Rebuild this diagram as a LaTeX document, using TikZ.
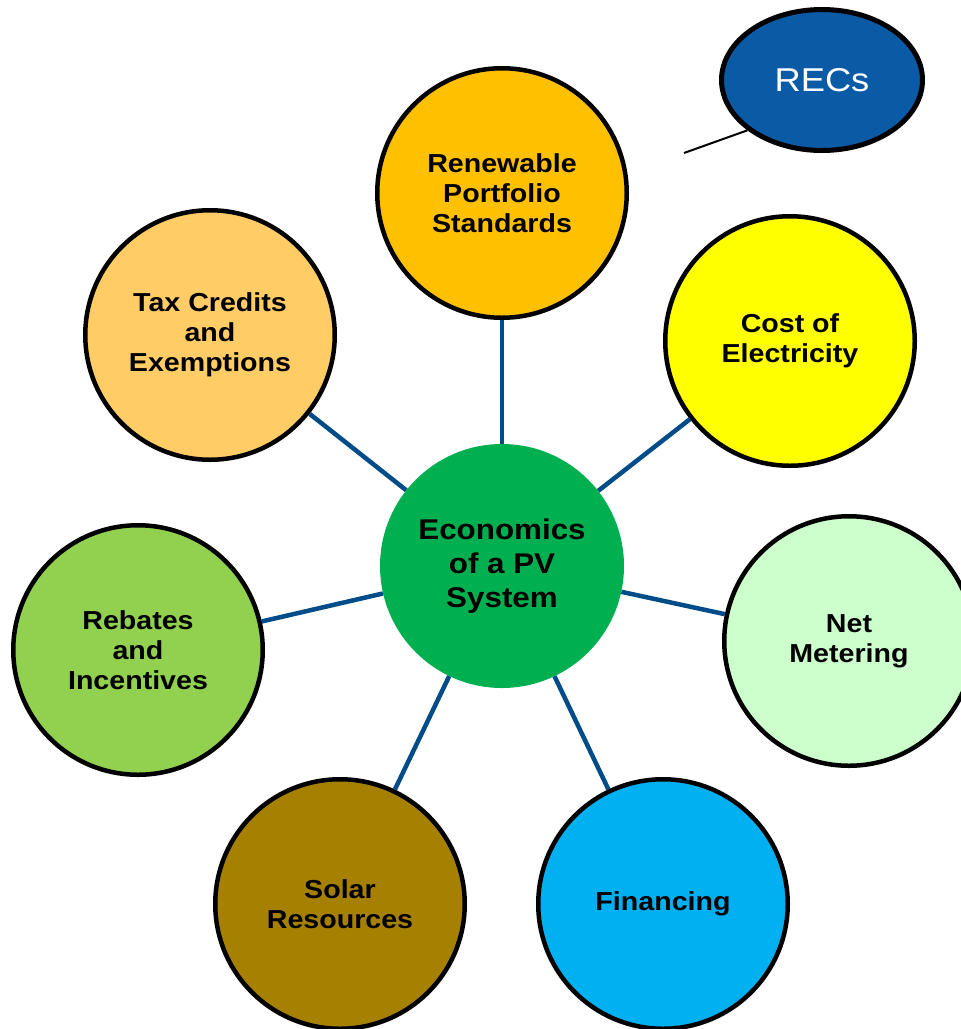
\documentclass[tikz,border=0pt]{standalone}
\usepackage{fontspec}
\setmainfont[FakeStretch=1.1]{Liberation Sans}
\usetikzlibrary{positioning,shapes.geometric}

\definecolor{hubgreen}{HTML}{00B050}
\definecolor{rpsgold}{HTML}{FFC000}
\definecolor{costyellow}{HTML}{FFFF00}
\definecolor{netmint}{HTML}{CCFFCC}
\definecolor{finblue}{HTML}{00B0F0}
\definecolor{solarbrown}{HTML}{A68000}
\definecolor{rebgreen}{HTML}{92D050}
\definecolor{taxpeach}{HTML}{FFCC66}
\definecolor{recsblue}{HTML}{0B5AA6}
\definecolor{linkblue}{HTML}{004C88}

\begin{document}
\begin{tikzpicture}[on grid,
    factor/.style={circle, draw=black, line width=4.5pt, minimum size=249.5pt, inner sep=0pt, align=center, font=\fontsize{26}{30}\selectfont\bfseries},
    hub/.style={circle, fill=hubgreen, minimum size=244pt, inner sep=0pt, align=center, font=\fontsize{28.5}{34}\selectfont\bfseries},
    link/.style={draw=linkblue, line width=4.5pt}]
        \clip (0pt,0pt) rectangle (961pt,-1029pt);
        \node[hub] (econ) at (502pt,-566pt) {Economics\\of a PV\\System};
        \node[factor, fill=rpsgold] (rps) [above=373pt of econ] {Renewable\\Portfolio\\Standards};
        \node[factor, fill=costyellow] (cost) [above right=225pt and 288pt of econ] {Cost of\\Electricity};
        \node[factor, fill=netmint] (net) [below right=75pt and 347pt of econ] {Net\\Metering};
        \node[factor, fill=finblue] (fin) [below right=338pt and 161pt of econ] {Financing};
        \node[factor, fill=solarbrown] (solar) [below left=338pt and 162pt of econ] {Solar\\Resources};
        \node[factor, fill=rebgreen] (reb) [below left=84pt and 364pt of econ] {Rebates\\and\\Incentives};
        \node[factor, fill=taxpeach] (tax) [above left=231pt and 292pt of econ] {Tax Credits\\and\\Exemptions};
        \node[ellipse, draw=black, line width=5pt, fill=recsblue, text=white, minimum width=201pt, minimum height=141pt, font=\fontsize{33}{40}\selectfont] (recs) [above right=113pt and 320pt of rps] {RECs};
        \coordinate (tail) at (684pt,-153pt);
        \path[link] (econ) edge (rps);
        \path[link] (econ) edge (cost);
        \path[link] (econ) edge (net);
        \path[link] (econ) edge (fin);
        \path[link] (econ) edge (solar);
        \path[link] (econ) edge (reb);
        \path[link] (econ) edge (tax);
        \draw[line width=2pt] (tail) -- (recs.214);
      \end{tikzpicture}
\end{document}
